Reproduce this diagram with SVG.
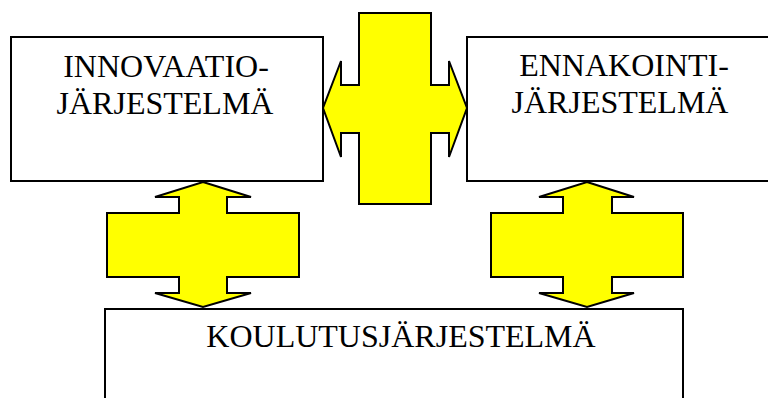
<svg xmlns="http://www.w3.org/2000/svg" width="768" height="398" viewBox="0 0 768 398">
<style>
.box{fill:#fff;stroke:#000;stroke-width:2}
.arr{fill:#ffff00;stroke:#000;stroke-width:2;stroke-linejoin:miter}
.t{font-family:"Liberation Serif","Times New Roman",serif;font-size:32px;fill:#000;text-anchor:middle}
</style>
<rect width="768" height="398" fill="#fff"/>
<g id="innovaatio">
<rect class="box" x="11" y="37" width="312" height="144"/>
<text class="t" x="166" y="77">INNOVAATIO-</text>
<text class="t" x="165" y="114">JÄRJESTELMÄ</text>
</g>
<g id="ennakointi">
<rect class="box" x="467" y="37" width="320" height="144"/>
<text class="t" x="624" y="76">ENNAKOINTI-</text>
<text class="t" x="620" y="113">JÄRJESTELMÄ</text>
</g>
<g id="koulutus">
<rect class="box" x="105" y="309" width="578" height="100"/>
<text class="t" x="401" y="347">KOULUTUSJÄRJESTELMÄ</text>
</g>
<g id="connectors">
<polygon class="arr" points="359,13 431,13 431,85 449,85 449,61 467,108 449,157 449,133 431,133 431,204 359,204 359,133 341,133 341,157 323,108 341,61 341,85 359,85"/>
<polygon class="arr" points="203,182 251,197 227,197 227,213 299,213 299,277 227,277 227,293 251,293 203,307 155,293 179,293 179,277 107,277 107,213 179,213 179,197 155,197"/>
<polygon class="arr" points="587,182 634,197 612,197 612,213 683,213 683,277 612,277 612,293 634,293 587,307 539,293 563,293 563,277 491,277 491,213 563,213 563,197 539,197"/>
</g>
</svg>
